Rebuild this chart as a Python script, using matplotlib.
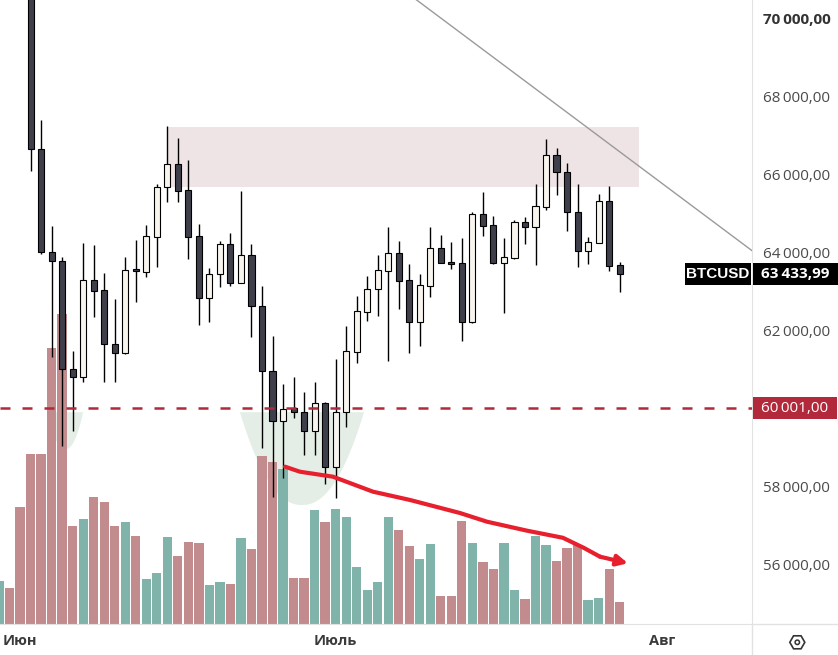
import numpy as np
import pandas as pd
import matplotlib
matplotlib.use('Agg')
import matplotlib.pyplot as plt
import matplotlib.transforms as mtransforms
from matplotlib.patches import Rectangle, Polygon, RegularPolygon, Circle
from matplotlib.lines import Line2D

plt.rcParams['font.family'] = ['Open Sans', 'DejaVu Sans']

# daily candles
dates = pd.date_range('2024-05-30', periods=60, freq='D')

opens = [70950, 71300, 71500, 70900, 66640, 64000, 63770, 61000, 60810, 63290,
         63030, 61650, 61410, 63560, 63500, 64390, 65670, 66260, 65600, 64420,
         62840, 63440, 64210, 63200, 63920, 62620, 60960, 59670, 60000, 59900,
         59430, 60130, 58490, 59910, 61450, 62480, 63050, 63530, 63970, 63290,
         62200, 63140, 64100, 63740, 63720, 62220, 64970, 64690, 63730, 63860,
         64780, 64660, 65170, 66500, 66050, 65030, 64040, 64250, 65320, 63670]
highs = [71400, 71600, 71800, 71100, 67390, 64680, 63890, 61480, 64230, 64190,
         63480, 62800, 63870, 64320, 64700, 65750, 67240, 66940, 66370, 64730,
         63590, 64300, 64500, 65560, 64200, 63140, 61860, 60630, 60810, 60410,
         60680, 60150, 61260, 62120, 62890, 63400, 63930, 64660, 64290, 63700,
         63440, 64660, 64440, 64260, 64370, 65040, 65550, 64930, 64360, 64830,
         64910, 65750, 66900, 66680, 66280, 65750, 64390, 65500, 65700, 63760]
lows = [70700, 70900, 70800, 66090, 63950, 61310, 59030, 59430, 60680, 62350,
        60680, 60680, 61400, 62730, 63370, 63630, 65300, 65300, 63840, 62140,
        62220, 63120, 63140, 63200, 61840, 58990, 57730, 58200, 59740, 58790,
        58790, 58050, 57690, 59510, 61150, 62250, 62370, 61220, 62550, 61430,
        61600, 62860, 63730, 63570, 61730, 62180, 64430, 63700, 62440, 63820,
        64210, 63670, 65080, 65470, 64550, 63630, 63700, 64240, 63530, 62990]
closes = [71100, 71050, 70900, 66640, 64000, 63770, 61000, 60810, 63290, 63015,
          61640, 61410, 63550, 63530, 64420, 65680, 66260, 65580, 64400, 62840,
          63440, 64210, 63200, 63920, 62620, 60960, 59670, 59980, 59900, 59430,
          60130, 58490, 59910, 61470, 62490, 63050, 63550, 63970, 63270, 62200,
          63160, 64100, 63730, 63700, 62220, 64980, 64680, 63730, 63890, 64770,
          64660, 65190, 66500, 66050, 65030, 64040, 64260, 65320, 63660, 63433.99]
volumes = [43, 36, 117, 170, 170, 276, 310, 98, 105, 127,
           122, 98, 102, 88, 45, 51, 87, 68, 82, 81,
           39, 42, 40, 86, 75, 168, 162, 155, 46, 46,
           114, 102, 115, 107, 57, 34, 42, 107, 94, 78,
           65, 80, 28, 28, 103, 81, 62, 55, 81, 34,
           25, 88, 79, 63, 76, 79, 24, 26, 55, 22]

price_ticks = [56000, 58000, 60000, 62000, 64000, 66000, 68000, 70000]
month_starts = ['2024-06-01', '2024-07-01', '2024-08-01']
month_labels = ['Июн', 'Июль', 'Авг']

symbol = 'BTCUSD'
last_price = 63433.99
level_price = 60001

# drawings (day index, price)
zone_x = (16, 60.8)
zone_y = (65674, 67213)
trend_x = [38, 73]
trend_y = [70812, 63756]
arrow_x = [27.19, 28.6, 31.75, 35.55, 39.07, 43.82, 46.39, 50.19, 53.6, 55.6, 57.13, 59.79]
arrow_y = [58503, 58374, 58246, 57862, 57649, 57315, 57092, 56862, 56680, 56420, 56195, 56026]
bowls = [(6.3, 1.7, 59900, 58956), (28.8, 5.9, 59900, 57520)]  # centre, half width, top, bottom

BULL = '#f8f5ef'
BEAR = '#3e3f4a'
VOL_UP = '#80b3aa'
VOL_DOWN = '#c28b8e'
LEVEL = '#b2293b'
AXIS_TXT = '#4a4a4a'

W, H = 838, 655
fig = plt.figure(figsize=(W / 100, H / 100), dpi=100)
rect = [0, 31 / H, 752 / W, 624 / H]
ax_vol = fig.add_axes(rect)
ax = fig.add_axes(rect, sharex=ax_vol)
ax.patch.set_alpha(0)

x = np.arange(len(dates))
o = np.array(opens); c = np.array(closes)
h = np.array(highs); l = np.array(lows)
up = c >= o

ax.set_xlim(0.095, 71.58)
ax.set_ylim(54469, 70469)

# volume underneath
ax_vol.bar(x, volumes, width=0.88, color=np.where(up, VOL_UP, VOL_DOWN), zorder=2)
ax_vol.set_ylim(0, 624)
ax_vol.axis('off')

for cx, hw, top, bot in bowls:
    t = np.linspace(-1, 1, 80)
    px = cx + hw * t
    py = top - (top - bot) * (1 - np.abs(t) ** 2.2)
    ax_vol.add_patch(Polygon(np.column_stack([px, py]), closed=True, facecolor='#e4eee7',
                             edgecolor='none', transform=ax.transData, zorder=1))

# resistance zone
ax.add_patch(Rectangle((zone_x[0], zone_y[0]), zone_x[1] - zone_x[0], zone_y[1] - zone_y[0],
                       facecolor='#efe4e5', edgecolor='none', zorder=1))

# candles
ax.vlines(x, l, h, color='black', lw=1.0, zorder=3)
body_low = np.minimum(o, c)
body_h = np.maximum(np.abs(c - o), 25)
ax.bar(x, body_h, bottom=body_low, width=0.58, color=np.where(up, BULL, BEAR),
       edgecolor='black', linewidth=0.8, zorder=4)

# trend line and level
ax.plot(trend_x, trend_y, color='#9a9a9a', lw=1.0, zorder=5)
ax.axhline(level_price, color=LEVEL, lw=1.8, dashes=(4, 4.8), zorder=5)

# hand drawn arrow
ax.plot(arrow_x[:-1], arrow_y[:-1], color='#e8202e', lw=3, solid_capstyle='round',
        solid_joinstyle='round', zorder=6)
ax.annotate('', xy=(arrow_x[-1], arrow_y[-1]), xytext=(arrow_x[-2], arrow_y[-2]),
            arrowprops=dict(arrowstyle='-|>', color='#e8202e', lw=3, mutation_scale=16,
                            shrinkA=0, shrinkB=0), zorder=6)

# axes look
for s in ['top', 'left']:
    ax.spines[s].set_visible(False)
ax.spines['right'].set_color('#e2e2e2')
ax.spines['bottom'].set_color('#e2e2e2')
ax.yaxis.tick_right()
# the level tag covers the 60 000 label, as in the terminal
ax.set_yticks(price_ticks, ['' if p == 60000 else f'{p // 1000}\u2009{p % 1000:03d},00'
                            for p in price_ticks])
ax.tick_params(axis='y', length=0, pad=8, labelsize=11, labelcolor=AXIS_TXT)
ax.get_yticklabels()[-1].set_fontweight('bold')
ax.get_yticklabels()[-1].set_color('#333333')

tick_pos = [(pd.Timestamp(d) - dates[0]).days for d in month_starts]
ax.set_xticks(tick_pos, month_labels)
ax.tick_params(axis='x', length=0, pad=7, labelsize=10.5, labelcolor='#3a3a3a')
for t in ax.get_xticklabels():
    t.set_fontweight('bold')

# separators continue into the corner
fig.add_artist(Line2D([752 / W, 1], [31 / H, 31 / H], color='#e2e2e2', lw=1))
fig.add_artist(Line2D([752 / W, 752 / W], [0, 31 / H], color='#e2e2e2', lw=1))

# price tags
tr = mtransforms.blended_transform_factory(fig.transFigure, ax.transData)
tag_h = 22 / 0.039


def tag(price, x0, x1, text, color, **kw):
    ax.add_patch(Rectangle((x0 / W, price - tag_h / 2), (x1 - x0) / W, tag_h, transform=tr,
                           facecolor=color, edgecolor='none', clip_on=False, zorder=7))
    ax.text((x0 + x1) / 2 / W, price, text, transform=tr, ha='center', va='center',
            color='white', zorder=8, clip_on=False, **kw)


tag(level_price, 753, 837, '60\u2009001,00', LEVEL, fontsize=11)
tag(last_price, 753, 838, '63\u2009433,99', 'black', fontsize=11, fontweight='bold')
tag(last_price, 685, 751, symbol, 'black', fontsize=11, fontweight='bold',
    family=['Liberation Sans Narrow', 'Liberation Sans', 'DejaVu Sans'])

# settings icon in the corner
fig.patches.append(RegularPolygon((7.973, 0.127), 6, radius=0.075, orientation=np.pi / 6,
                                  transform=fig.dpi_scale_trans, facecolor='none',
                                  edgecolor='#333333', lw=1.2))
fig.patches.append(Circle((7.973, 0.127), 0.022, transform=fig.dpi_scale_trans,
                          facecolor='none', edgecolor='#333333', lw=1.1))

fig.savefig('out.png', dpi=100)
